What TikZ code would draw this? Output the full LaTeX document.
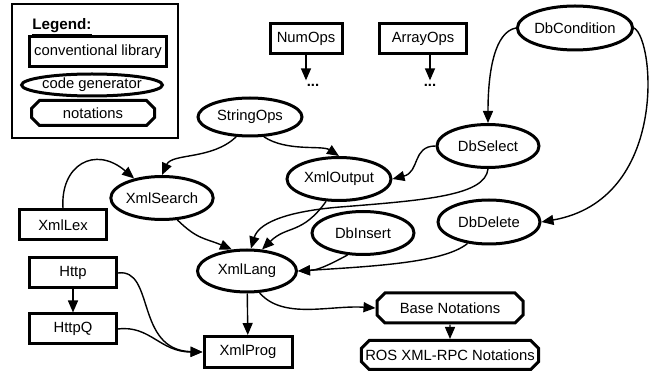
\documentclass[tikz,border=0pt]{standalone}
\usepackage{fontspec}
\setmainfont{Liberation Sans}
\usetikzlibrary{shapes.geometric,shapes.misc,arrows.meta}
\begin{document}
\begin{tikzpicture}[x=1pt,y=-1pt,
  every node/.style={font=\fontsize{14.8}{16}\selectfont},
  lib/.style={draw,line width=3pt,rectangle,inner sep=0pt,minimum height=30pt},
  gen/.style={draw,line width=3pt,ellipse,inner sep=0pt,minimum width=102pt,minimum height=43pt},
  nota/.style={draw,line width=3pt,chamfered rectangle,chamfered rectangle xsep=4pt,chamfered rectangle ysep=4pt,inner sep=0pt,minimum height=29pt},
  dep/.style={line width=1.4pt,-{Triangle[length=12pt,width=10pt]}}]
\useasboundingbox (0,0) rectangle (657,374);
% legend
\node[draw,line width=1.4pt,rectangle,minimum width=166pt,minimum height=134pt,inner sep=0pt] (leg) at (95,71) {};
\node[font=\fontsize{15.2}{16}\selectfont\bfseries] (legt) at (62,27) {\underline{Legend:}};
\node[lib,minimum width=137pt] (l1) at (98,52) {conventional library};
\node[gen,minimum width=130pt,minimum height=22pt] (l2) at (92,85) {code generator};
\node[nota,minimum width=123pt,minimum height=25pt] (l3) at (93,113) {notations};
% nodes
\node[lib,minimum width=72pt] (numops) at (306,39) {NumOps};
\node[lib,minimum width=87pt] (arrops) at (423,39) {ArrayOps};
\node (d1) at (313,85) {\bfseries ...};
\node (d2) at (430,85) {\bfseries ...};
\node[gen,minimum width=103pt,minimum height=44pt] (dbc) at (575,28) {DbCondition};
\node[gen] (dbs) at (488,146) {DbSelect};
\node[gen,minimum width=104pt,minimum height=38pt] (so) at (250,117) {StringOps};
\node[gen,minimum width=104pt] (xo) at (339,179) {XmlOutput};
\node[gen] (xs) at (162,198) {XmlSearch};
\node[lib,minimum width=87pt] (xlx) at (63,225) {XmlLex};
\node[gen,minimum width=99pt,minimum height=42pt] (xl) at (247,271) {XmlLang};
\node[gen] (di) at (363,233) {DbInsert};
\node[gen,minimum height=44pt] (dd) at (489,222) {DbDelete};
\node[lib,minimum width=87pt] (http) at (73,273) {Http};
\node[lib,minimum width=87pt] (hq) at (73,329) {HttpQ};
\node[lib,minimum width=88pt,minimum height=31pt] (xp) at (248,352) {XmlProg};
\node[nota,minimum width=146pt,minimum height=30pt] (bn) at (450,308) {Base Notations};
\node[nota,minimum width=177pt,minimum height=29pt] (ros) at (450,355) {ROS XML-RPC Notations};
% edges
\draw[dep] (numops) -- (d1.north -| numops.south);
\draw[dep] (arrops.south -| d2) -- (d2);
\draw[dep] (dbc.west) .. controls (495,32) and (488,70) .. (dbs.north);
\draw[dep] (dbc.east) .. controls (655,40) and (668,200) .. (dd.east);
\draw[dep] (dbs.west) .. controls (412,146) and (420,172) .. (xo.east);
\draw[dep] (dbs.south) .. controls (485,195) and (430,200) .. (340,207) .. controls (280,212) and (258,225) .. (xl.80);
\draw[dep] (di.235) .. controls (327,266) and (318,270) .. (xl.east);
\draw[dep] (dd.225) .. controls (445,262) and (380,266) .. (xl.east);
\draw[dep] (so.235) .. controls (212,160) and (172,153) .. (xs.north);
\draw[dep] (so.305) .. controls (287,152) and (322,145) .. (xo.north);
\draw[dep] (xlx.north) .. controls (60,165) and (95,145) .. (xs.145);
\draw[dep] (xs.305) .. controls (198,240) and (205,238) .. (xl.125);
\draw[dep] (xo.240) .. controls (302,235) and (287,225) .. (xl.55);
\draw[dep] (xl) -- (xp);
\draw[dep] (http) -- (hq);
\draw[dep] (http.east) .. controls (155,268) and (135,350) .. (xp.west);
\draw[dep] (hq.east) .. controls (150,325) and (160,352) .. (xp.west);
\draw[dep] (xl.300) .. controls (283,320) and (330,305) .. (bn.west);
\draw[dep] (bn) -- (ros);
\end{tikzpicture}
\end{document}
